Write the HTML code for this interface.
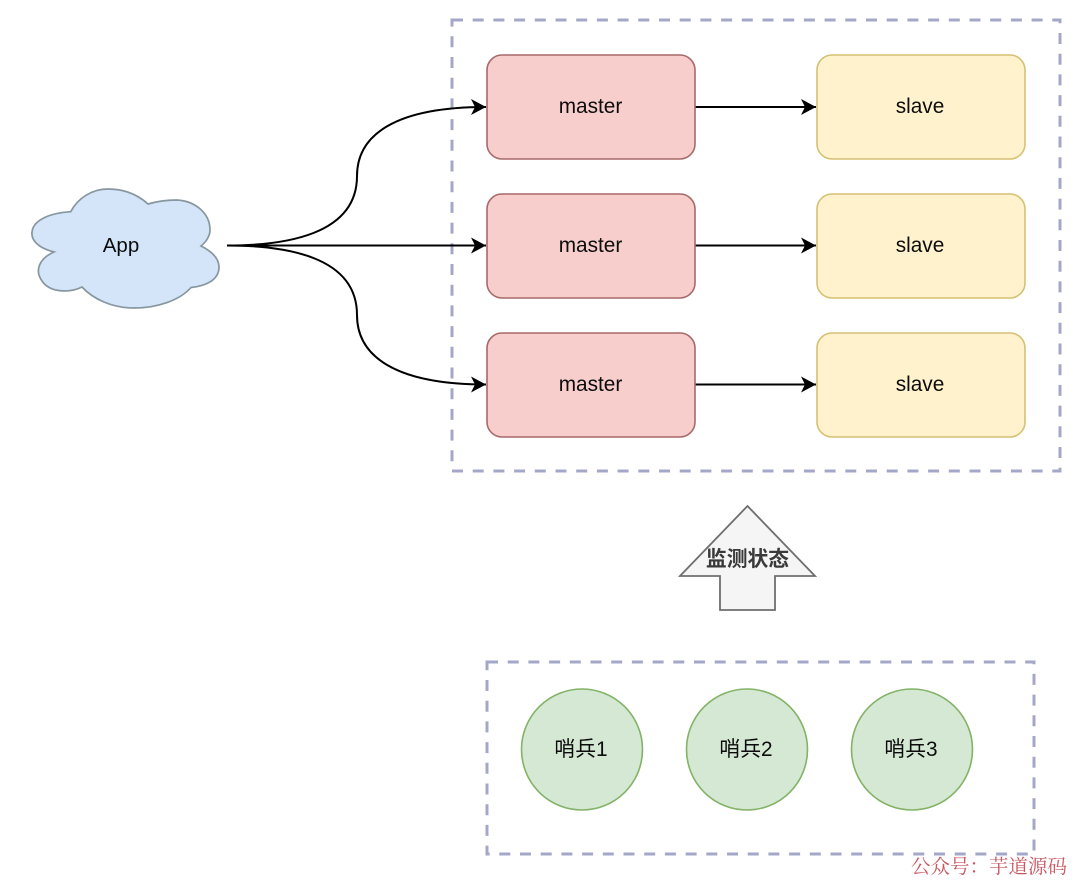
<!DOCTYPE html>
<html><head><meta charset="utf-8"><style>
html,body{margin:0;padding:0;background:#fff}
svg{display:block}
text{font-family:"Liberation Sans","Noto Sans CJK SC",sans-serif;text-anchor:middle;fill:#0c0c0c}
</style></head><body>
<svg width="1080" height="886" viewBox="0 0 1080 886" xmlns="http://www.w3.org/2000/svg">
<defs>
<marker id="a" markerUnits="userSpaceOnUse" markerWidth="18" markerHeight="18" refX="16" refY="9" orient="auto"><path d="M1 1 L16 9 L1 17 L5 9 Z" fill="#000"/></marker>
</defs>
<rect width="1080" height="886" fill="#fff"/>
<!-- cloud -->
<path d="M70.700 211.700 C78 198 92 189 108 189 C125 189 138 195 148 204 C158 201 168 200 177 200 C195 201 210 213 210 230 C210 236 206 242 201 246 C213 252 219 259 219 267 C219 280 206 286 191 287.500 C180 300 158 308 134 308 C112 308 93 299 82 287 C70 293 50 293 42 281 C34 270 40 258 54 252 C38 248 31 240 32 232 C33 220 50 213 70.700 211.700 Z" fill="#d4e4f9" stroke="#87979f" stroke-width="1.700"/>
<text x="121" y="252" font-size="20.500">App</text>
<!-- group box 1 -->
<rect x="452" y="20" width="608" height="451" fill="none" stroke="#a5a7c8" stroke-width="3" stroke-dasharray="11 9.7"/>
<!-- connectors -->
<g fill="none" stroke="#000" stroke-width="2">
<path d="M227 245.500 C285 245.500 357 235 357 176 C357 135 395 107 486 107" marker-end="url(#a)"/>
<path d="M227 245.500 L486 245.500" marker-end="url(#a)"/>
<path d="M227 245.500 C285 245.500 357 256 357 315 C357 356 395 384.500 486 384.500" marker-end="url(#a)"/>
<path d="M695 107 L816 107" marker-end="url(#a)"/>
<path d="M695 245.500 L816 245.500" marker-end="url(#a)"/>
<path d="M695 384.500 L816 384.500" marker-end="url(#a)"/>
</g>
<!-- masters -->
<g fill="#f8cecc" stroke="#a8696a" stroke-width="1.600">
<rect x="487" y="55" width="208" height="104" rx="15"/>
<rect x="487" y="194" width="208" height="104" rx="15"/>
<rect x="487" y="333" width="208" height="104" rx="15"/>
</g>
<g fill="#fff2cc" stroke="#d6c074" stroke-width="1.600">
<rect x="817" y="55" width="208" height="104" rx="15"/>
<rect x="817" y="194" width="208" height="104" rx="15"/>
<rect x="817" y="333" width="208" height="104" rx="15"/>
</g>
<g font-size="20.800">
<text x="590.500" y="113">master</text>
<text x="590.500" y="252">master</text>
<text x="590.500" y="391">master</text>
<text x="920" y="113">slave</text>
<text x="920" y="252">slave</text>
<text x="920" y="391">slave</text>
</g>
<!-- up arrow -->
<path d="M747.500 506 L815 576 L775 576 L775 610 L720 610 L720 576 L680 576 Z" fill="#f5f5f5" stroke="#6f6f6f" stroke-width="1.800"/>
<text x="747.500" y="566" font-size="20.800" font-weight="700" style="fill:#3a3a3a">监测状态</text>
<!-- group box 2 -->
<rect x="487" y="662" width="547" height="192" fill="none" stroke="#a5a7c8" stroke-width="3" stroke-dasharray="11 9.7"/>
<g fill="#d5e8d4" stroke="#82b366" stroke-width="1.600">
<circle cx="582" cy="749.500" r="60.500"/>
<circle cx="747" cy="749.500" r="60.500"/>
<circle cx="912" cy="749.500" r="60.500"/>
</g>
<g font-size="20.800">
<text x="581" y="756">哨兵1</text>
<text x="746" y="756">哨兵2</text>
<text x="911" y="756">哨兵3</text>
</g>
<!-- watermark -->
<text x="989" y="873" font-size="19.500" style="fill:#c8555f;font-family:'Noto Serif CJK SC','Liberation Serif',serif">公众号：芋道源码</text>
</svg>
</body></html>
